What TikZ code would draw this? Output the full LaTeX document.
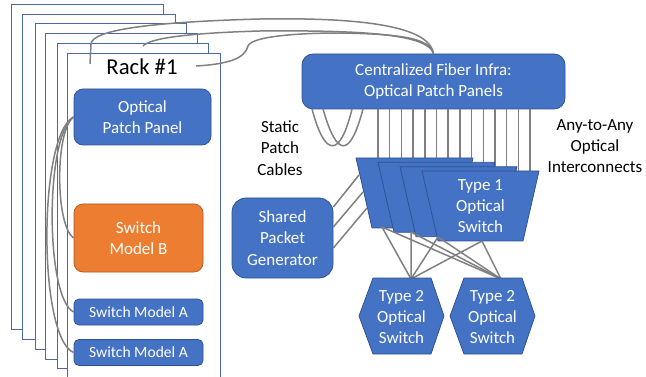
\documentclass[tikz,border=0pt]{standalone}
\usepackage{fontspec}
\setmainfont{Carlito}
\definecolor{boxblue}{HTML}{4472C4}
\definecolor{boxline}{HTML}{2F528F}
\definecolor{boxorange}{HTML}{ED7D31}
\definecolor{orangeline}{HTML}{AE5A21}
\definecolor{cablegray}{HTML}{808080}
\definecolor{rackline}{HTML}{4A68A8}
\begin{document}
\begin{tikzpicture}[x=1pt,y=-1pt,line width=0.75pt,
  every node/.style={inner sep=1pt,align=center,font=\fontsize{17}{21.3}\selectfont},
  bluebox/.style={draw=boxline,fill=boxblue,text=white,rounded corners=9pt},
  orangebox/.style={draw=orangeline,fill=boxorange,text=white,rounded corners=9pt},
  smallbox/.style={bluebox,rounded corners=5pt,minimum width=129pt,minimum height=26pt,font=\fontsize{15.6}{19}\selectfont},
  rackbox/.style={draw=rackline,fill=white,line width=1pt},
  trap/.style={draw=boxline,fill=boxblue},
  cable/.style={draw=cablegray,line width=1.5pt}]
\useasboundingbox (0,0) rectangle (646,377);
% racks, back to front
\foreach \l/\t/\r/\b in {11/5/163/329,22/15/175/339,35/24/186/349,45/34/197/359,57/44/208/368}
  \filldraw[rackbox] (\l,\t) rectangle (\r,\b);
\filldraw[rackbox] (67,377) -- (67,54) -- (220,54) -- (220,377);
\node[font=\fontsize{22.7}{27}\selectfont] (rack) at (142,67) {Rack \#1};
\node[bluebox,minimum width=137pt,minimum height=56pt] (opp) at (142.5,117) {Optical\\Patch Panel};
\node[orangebox,minimum width=129pt,minimum height=68pt] (smb) at (138.5,238) {Switch\\Model B};
\node[smallbox] (sma1) at (138.5,312) {Switch Model A};
\node[smallbox] (sma2) at (138.5,352.5) {Switch Model A};
\node[bluebox,rounded corners=11pt,minimum width=263pt,minimum height=55pt] (cfi) at (433.5,81.5) {Centralized Fiber Infra:\\Optical Patch Panels};
\node[bluebox,rounded corners=14pt,minimum width=101pt,minimum height=80pt] (spg) at (282.5,238) {Shared\\Packet\\Generator};
\node (spc) at (280,148) {Static\\Patch\\Cables};
\node (ata) at (595,146) {Any-to-Any\\Optical\\Interconnects};
% in-rack cables
\draw[cable] (opp.west) .. controls (55,130) and (55,225) .. (smb.west);
\draw[cable] (opp.west) .. controls (45,135) and (45,298) .. (sma1.west);
\draw[cable] (opp.west) .. controls (38,135) and (38,338) .. (sma2.west);
% rack to central panel
\coordinate (r1) at (90,64);
\coordinate (r2) at (143,46);
\coordinate (r3) at (196,66);
\draw[cable] (r1) -- (91,44) .. controls (92,30) and (150,22) .. (260,19) .. controls (380,17) and (430,30) .. (cfi.north);
\draw[cable] (r2) .. controls (150,38) and (190,33) .. (260,31) .. controls (370,30) and (428,35) .. (cfi.north);
\draw[cable] (r3) .. controls (230,64) and (245,58) .. (248,46) .. controls (252,36) and (300,33) .. (340,33) .. controls (400,34) and (430,38) .. (cfi.north);
% static loops
\draw[cable] (312,109) .. controls (325,158) and (340,158) .. (352,109);
\draw[cable] (323,109) .. controls (337,158) and (350,158) .. (363,109);
% any-to-any fibres
\foreach \k/\e in {0/158,1/158,2/158,3/158,4/158,5/158,6/158,7/158,8/163,9/163,10/167,11/167,12/171,13/171}
  \draw[cable] ({378+11.7*\k},109) -- ({378+11.7*\k},\e);
% type 1 switches
\foreach \i in {0,...,3}
  \filldraw[trap] ({356+22*\i},{158+4.33*\i}) -- ({473+22*\i},{158+4.33*\i}) -- ({457+22*\i},{228+4.33*\i}) -- ({372+22*\i},{228+4.33*\i}) -- cycle;
\node[text=white] (t1) at (480.5,206) {Type 1\\Optical\\Switch};
% generator to switches
\draw[cable] ([yshift=31pt]spg.east) -- (359,175);
\draw[cable] ([yshift=11pt]spg.east) -- (363,192);
\draw[cable] ([yshift=-10pt]spg.east) -- (367,208);
% type 1 to type 2
\coordinate (b1) at (382,227);
\coordinate (b2) at (411,232);
\coordinate (b3) at (438,237);
\coordinate (b4) at (482,241);
\coordinate (h1) at (411,279);
\coordinate (h2) at (501,279);
\foreach \b in {b1,b2,b3,b4}
  \draw[cable] (\b) -- (h1) (\b) -- (h2);
% type 2 switches
\filldraw[trap] (359,316) -- (373,278) -- (431,278) -- (444,316) -- (431,354) -- (373,354) -- cycle;
\filldraw[trap] (450,316) -- (464,278) -- (522,278) -- (535,316) -- (522,354) -- (464,354) -- cycle;
\node[text=white] (t2a) at (401.5,317) {Type 2\\Optical\\Switch};
\node[text=white] (t2b) at (492.5,317) {Type 2\\Optical\\Switch};
\end{tikzpicture}
\end{document}
